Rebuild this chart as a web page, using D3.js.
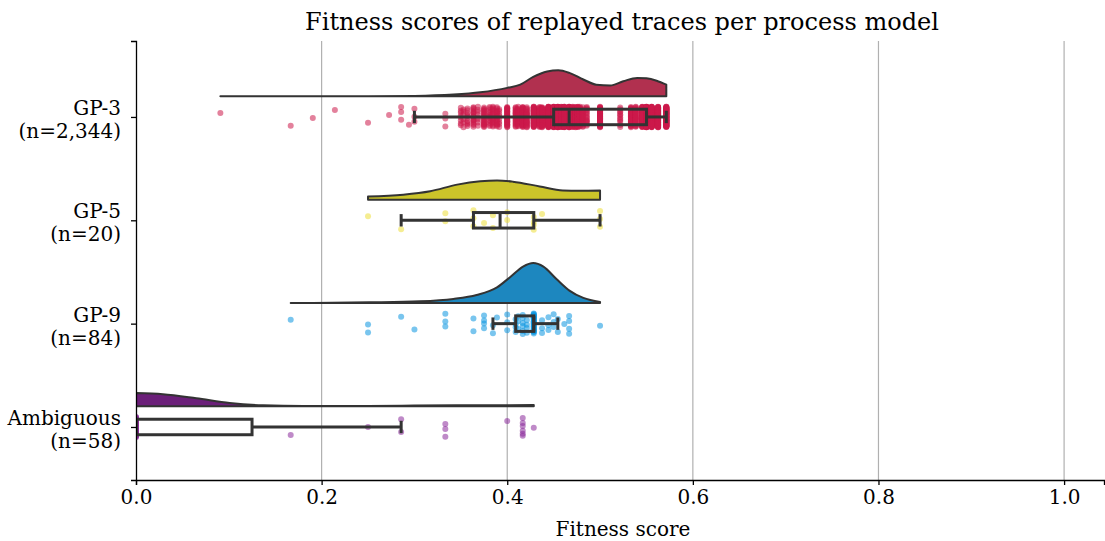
<!DOCTYPE html>
<html lang="en">
<head>
<meta charset="utf-8" />
<title>Fitness scores raincloud</title>
<script src="https://d3js.org/d3.v7.min.js"></script>
<style>
	body { margin: 0; background: white; }
	text { font-family: "DejaVu Serif", serif; fill: black; }
</style>
</head>
<body>
<svg width="1105" height="541"></svg>
<script>

//	categories and labels
var categories = ["GP-3", "GP-5", "GP-9", "Ambiguous"];
var sampleSizes = [2344, 20, 84, 58];
var xTicks = [0, 0.2, 0.4, 0.6, 0.8, 1.0];
var xLimits = [0, 1.043];

//	fitness values per group (distinct value, count)
var gp3Values = [0.0909, 0.1667, 0.1905, 0.2143, 0.25, 0.2727, 0.2857, 0.2941, 0.3, 0.3333,
	0.35, 0.3529, 0.3571, 0.3636, 0.3684, 0.375, 0.381, 0.3846, 0.3889, 0.3913,
	0.4, 0.4091, 0.4118, 0.4167, 0.4211, 0.4286, 0.4348, 0.4375, 0.4444, 0.45,
	0.4545, 0.4583, 0.4615, 0.4667, 0.4706, 0.4737, 0.4762, 0.4783, 0.4815, 0.4857,
	0.5, 0.5217, 0.5333, 0.5385, 0.5455, 0.55, 0.5556, 0.5625, 0.5714];
var gp3Counts = [1, 1, 1, 1, 1, 1, 3, 1, 3, 3,
	8, 6, 10, 16, 8, 22, 14, 18, 16, 8,
	36, 22, 18, 40, 24, 70, 34, 50, 120, 150,
	200, 90, 130, 160, 70, 55, 50, 25, 20, 15,
	60, 12, 40, 35, 80, 250, 140, 110, 96];

var gp5Values = [0.25, 0.2857, 0.3333, 0.3636, 0.375, 0.3846, 0.4, 0.4286, 0.4375, 0.5];
var gp5Counts = [1, 1, 2, 3, 1, 2, 2, 4, 1, 3];

var gp9Values = [0.1667, 0.25, 0.2857, 0.3, 0.3333, 0.3636, 0.375, 0.3846, 0.3889, 0.4,
	0.4091, 0.4118, 0.4167, 0.4211, 0.4286, 0.4375, 0.4444, 0.45, 0.4545, 0.4615, 0.4667, 0.5];
var gp9Counts = [1, 2, 1, 1, 3, 2, 4, 2, 1, 3,
	4, 3, 6, 4, 30, 3, 3, 3, 2, 1, 4, 1];

var ambValues = [0, 0.1667, 0.25, 0.2857, 0.3333, 0.4, 0.4167, 0.4286];
var ambCounts = [43, 1, 1, 2, 3, 1, 6, 1];

//	density profiles (percent of the tallest peak)
var gp3DensX = [0.0909, 0.25, 0.30, 0.342, 0.371, 0.40, 0.414, 0.428, 0.443, 0.455,
	0.467, 0.482, 0.496, 0.511, 0.525, 0.54, 0.55, 0.561, 0.5714];
var gp3DensY = [0, 0.3, 1, 4.3, 10, 21, 29, 48.5, 62, 65,
	58.5, 42, 29, 27, 37.5, 46, 45, 39, 29];
var gp5DensX = [0.25, 0.288, 0.317, 0.346, 0.371, 0.389, 0.406, 0.435, 0.46, 0.478, 0.5];
var gp5DensY = [8, 12.5, 21, 37.5, 46, 48, 45, 33, 23, 22.5, 23];
var gp9DensX = [0.1667, 0.252, 0.306, 0.342, 0.367, 0.389, 0.403, 0.417, 0.428, 0.439,
	0.453, 0.467, 0.482, 0.5];
var gp9DensY = [0, 1.5, 4, 10, 20, 39, 64.5, 91, 100, 91, 60, 31, 12.6, 2.5];
var ambDensX = [0, 0.029, 0.065, 0.101, 0.137, 0.18, 0.25, 0.3, 0.35, 0.4286];
var ambDensY = [33, 30, 20, 8.3, 2.5, 1, 1, 2, 2.5, 3];

//	colours
var violinColors = ["#b1304f", "#cbc42a", "#1d87bf", "#6b1f79"];
var dotColors = ["#cc1a4a", "#ecdf38", "#0b95e0", "#8a2a9a"];

//	expand value/count pairs into raw observations
function expand(values, counts) {
	var out = [];
	values.forEach(function(v, i) {
		for (var k = 0; k < counts[i]; k++) out.push(v);
	});
	return out;
}

var groups = [
	{ values: expand(gp3Values, gp3Counts), densX: gp3DensX, densY: gp3DensY },
	{ values: expand(gp5Values, gp5Counts), densX: gp5DensX, densY: gp5DensY },
	{ values: expand(gp9Values, gp9Counts), densX: gp9DensX, densY: gp9DensY },
	{ values: expand(ambValues, ambCounts), densX: ambDensX, densY: ambDensY }
];

//	svg and scales
var svg = d3.select("svg"),
	plotLeft = 136, plotRight = 1104, plotTop = 41, plotBottom = 480;

var x = d3.scaleLinear().domain(xLimits).range([plotLeft, plotRight]);
var y = d3.scaleLinear().domain([-0.735, 3.513]).range([plotTop, plotBottom]);
var step = y(1) - y(0);
var dens = d3.scaleLinear().domain([0, 100]).range([0, 0.387 * step]);

svg.append("defs").append("clipPath").attr("id", "plot")
	.append("rect")
	.attr("x", plotLeft).attr("y", plotTop)
	.attr("width", plotRight - plotLeft).attr("height", plotBottom - plotTop);

//	grid
svg.append("g").selectAll("line")
	.data(xTicks.filter(function(d) { return d > 0; }))
	.join("line")
	.attr("x1", function(d) { return x(d); })
	.attr("x2", function(d) { return x(d); })
	.attr("y1", plotTop).attr("y2", plotBottom)
	.attr("stroke", "#b0b0b0")
	.attr("stroke-width", 1.2);

var plot = svg.append("g").attr("clip-path", "url(#plot)");

//	half violins
var area = d3.area()
	.curve(d3.curveMonotoneX);

groups.forEach(function(g, i) {
	var base = y(i - 0.2);
	var pts = g.densX.map(function(v, k) { return [v, g.densY[k]]; });
	area.x(function(d) { return x(d[0]); })
		.y0(base)
		.y1(function(d) { return base - dens(d[1]); });
	plot.append("path")
		.attr("d", area(pts))
		.attr("fill", violinColors[i])
		.attr("stroke", "#333333")
		.attr("stroke-width", 2)
		.attr("stroke-linejoin", "round");
});

//	strip points, spread with a golden-ratio sequence
var jitter = 0.1;
groups.forEach(function(g, i) {
	plot.append("g").selectAll("circle")
		.data(g.values)
		.join("circle")
		.attr("cx", function(d) { return x(d); })
		.attr("cy", function(d, k) {
			var f = (k * 0.6180339887 + 0.31) % 1;
			return y(i + (f * 2 - 1) * jitter);
		})
		.attr("r", 3)
		.attr("fill", dotColors[i])
		.attr("fill-opacity", 0.55);
});

//	boxes
var boxH = 0.075;
groups.forEach(function(g, i) {
	var v = g.values.slice().sort(d3.ascending);
	var q1 = d3.quantileSorted(v, 0.25),
		med = d3.quantileSorted(v, 0.5),
		q3 = d3.quantileSorted(v, 0.75),
		iqr = q3 - q1;
	var lo = d3.min(v.filter(function(d) { return d >= q1 - 1.5 * iqr; })),
		hi = d3.max(v.filter(function(d) { return d <= q3 + 1.5 * iqr; }));
	var cy = y(i), h = boxH * step, cap = 0.8 * h;
	var b = plot.append("g")
		.attr("stroke", "#333333")
		.attr("stroke-width", 3)
		.attr("fill", "none");
	b.append("line").attr("x1", x(lo)).attr("x2", x(q1)).attr("y1", cy).attr("y2", cy);
	b.append("line").attr("x1", x(q3)).attr("x2", x(hi)).attr("y1", cy).attr("y2", cy);
	b.append("line").attr("x1", x(lo)).attr("x2", x(lo)).attr("y1", cy - cap).attr("y2", cy + cap);
	b.append("line").attr("x1", x(hi)).attr("x2", x(hi)).attr("y1", cy - cap).attr("y2", cy + cap);
	b.append("rect")
		.attr("x", x(q1)).attr("y", cy - h)
		.attr("width", x(q3) - x(q1)).attr("height", 2 * h);
	b.append("line").attr("x1", x(med)).attr("x2", x(med)).attr("y1", cy - h).attr("y2", cy + h);
});

//	x axis
var xAxis = svg.append("g")
	.attr("transform", "translate(0," + plotBottom + ")")
	.call(d3.axisBottom(x).tickValues(xTicks).tickFormat(d3.format(".1f")).tickSizeOuter(0).tickSize(5).tickPadding(5));
xAxis.select(".domain").attr("stroke", "black").attr("stroke-width", 1.3);
xAxis.selectAll(".tick line").attr("stroke", "black").attr("stroke-width", 1.3);
xAxis.selectAll(".tick text").attr("font-size", 20).attr("font-family", "DejaVu Serif");

//	y axis
var yAxis = svg.append("g")
	.attr("transform", "translate(" + plotLeft + ",0)")
	.call(d3.axisLeft(y).tickValues([0, 1, 2, 3]).tickFormat("").tickSizeOuter(0).tickSize(5));
yAxis.select(".domain").attr("stroke", "black").attr("stroke-width", 1.3);
yAxis.selectAll(".tick line").attr("stroke", "black").attr("stroke-width", 1.3);

var yLab = svg.append("g").selectAll("text")
	.data(categories)
	.join("text")
	.attr("text-anchor", "end")
	.attr("font-size", 20)
	.attr("transform", function(d, i) { return "translate(" + (plotLeft - 15) + "," + y(i) + ")"; });
yLab.append("tspan").attr("x", 0).attr("y", -2).text(function(d) { return d; });
yLab.append("tspan").attr("x", 0).attr("y", 21)
	.text(function(d, i) { return "(n=" + d3.format(",")(sampleSizes[i]) + ")"; });

//	titles
svg.append("text")
	.attr("x", (plotLeft + plotRight) / 2 + 2).attr("y", 30)
	.attr("text-anchor", "middle")
	.attr("font-size", 24)
	.text("Fitness scores of replayed traces per process model");

svg.append("text")
	.attr("x", (plotLeft + plotRight) / 2 + 3).attr("y", 536)
	.attr("text-anchor", "middle")
	.attr("font-size", 20)
	.text("Fitness score");

</script>
</body>
</html>
